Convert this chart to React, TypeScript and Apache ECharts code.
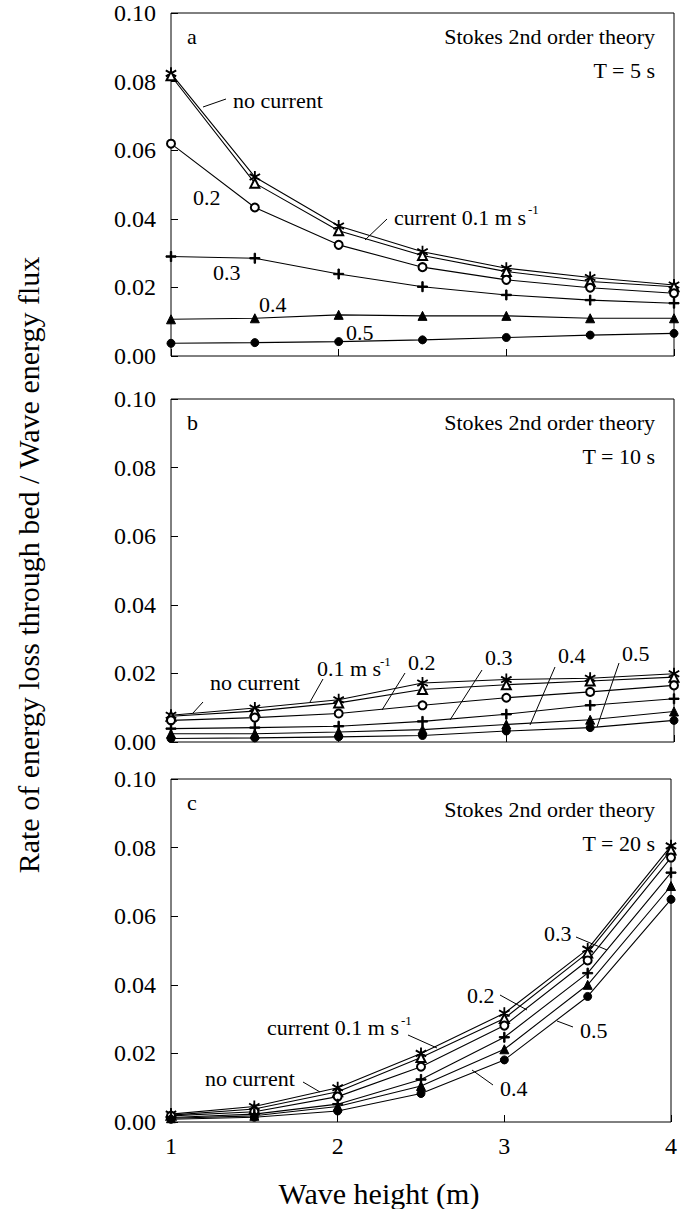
import React, { useEffect, useRef } from 'react';
import * as echarts from 'echarts';

// ---------- data ----------
const waveHeights = [1, 1.5, 2, 2.5, 3, 3.5, 4];
const xTickLabels = ['1', '2', '3', '4'];

// Panel a: T = 5 s
const aNoCurrent = [0.0824, 0.0522, 0.0379, 0.0304, 0.0256, 0.0229, 0.0207];
const aCur01 = [0.0817, 0.0504, 0.0365, 0.0293, 0.0246, 0.0217, 0.0202];
const aCur02 = [0.0619, 0.0433, 0.0324, 0.0259, 0.0222, 0.0199, 0.0183];
const aCur03 = [0.0290, 0.0285, 0.0239, 0.0202, 0.0178, 0.0163, 0.0154];
const aCur04 = [0.0107, 0.0110, 0.0120, 0.0117, 0.0117, 0.0110, 0.0110];
const aCur05 = [0.0037, 0.0039, 0.0042, 0.0047, 0.0054, 0.0061, 0.0066];

// Panel b: T = 10 s
const bNoCurrent = [0.0078, 0.0099, 0.0123, 0.0172, 0.0182, 0.0186, 0.0199];
const bCur01 = [0.0075, 0.0090, 0.0114, 0.0153, 0.0167, 0.0178, 0.0189];
const bCur02 = [0.0063, 0.0071, 0.0083, 0.0107, 0.0129, 0.0146, 0.0165];
const bCur03 = [0.0039, 0.0042, 0.0046, 0.0060, 0.0081, 0.0107, 0.0126];
const bCur04 = [0.0024, 0.0024, 0.0029, 0.0036, 0.0051, 0.0065, 0.0089];
const bCur05 = [0.0010, 0.0012, 0.0015, 0.0019, 0.0032, 0.0042, 0.0063];

// Panel c: T = 20 s
const cNoCurrent = [0.0023, 0.0045, 0.0100, 0.0200, 0.0317, 0.0504, 0.0805];
const cCur01 = [0.0020, 0.0038, 0.0088, 0.0188, 0.0302, 0.0493, 0.0793];
const cCur02 = [0.0018, 0.0030, 0.0074, 0.0161, 0.0281, 0.0471, 0.0771];
const cCur03 = [0.0013, 0.0023, 0.0052, 0.0124, 0.0247, 0.0434, 0.0727];
const cCur04 = [0.0011, 0.0018, 0.0045, 0.0105, 0.0212, 0.0400, 0.0688];
const cCur05 = [0.0008, 0.0014, 0.0032, 0.0083, 0.0181, 0.0366, 0.0649];

const panelLetters = ['a', 'b', 'c'];
const panelPeriods = ['T = 5 s', 'T = 10 s', 'T = 20 s'];
const theoryLabel = 'Stokes 2nd order theory';
const xTitle = 'Wave height (m)';
const yTitle = 'Rate of energy loss through bed / Wave energy flux';

// ---------- style ----------
const F = 'Liberation Serif';
const ASTERISK =
  'path://M-0.45,-6L0.45,-6L0.45,6L-0.45,6Z' +
  'M4.975,3.39L5.425,2.61L-4.975,-3.39L-5.425,-2.61Z' +
  'M5.425,-2.61L4.975,-3.39L-5.425,2.61L-4.975,3.39Z';
const PLUS = 'path://M-0.7,-5L0.7,-5L0.7,5L-0.7,5Z M-5,-0.7L5,-0.7L5,0.7L-5,0.7Z';

const markers = [
  { symbol: ASTERISK, size: [10, 11] },
  { symbol: 'emptyTriangle', size: 9 },
  { symbol: 'emptyCircle', size: 8 },
  { symbol: PLUS, size: 10 },
  { symbol: 'triangle', size: 9 },
  { symbol: 'circle', size: 8 },
];

const panels = [
  [aNoCurrent, aCur01, aCur02, aCur03, aCur04, aCur05],
  [bNoCurrent, bCur01, bCur02, bCur03, bCur04, bCur05],
  [cNoCurrent, cCur01, cCur02, cCur03, cCur04, cCur05],
];

const gridTops = [13, 399, 779];
const GRID_LEFT = 171;
const GRID_W = 503;
const GRID_H = 343;

function txt(x: number, y: number, text: string, size = 22, align = 'left', extra: any = {}) {
  return {
    type: 'text',
    x,
    y,
    ...extra,
    style: {
      text,
      fontFamily: F,
      fontSize: size,
      fill: '#000',
      align,
      verticalAlign: 'middle',
      textAlign: align,
      textVerticalAlign: 'middle',
    },
  };
}
function lead(x1: number, y1: number, x2: number, y2: number) {
  return {
    type: 'line',
    shape: { x1, y1, x2, y2 },
    style: { stroke: '#000', lineWidth: 1 },
  };
}

export default function App() {
  const ref = useRef<HTMLDivElement>(null);
  useEffect(() => {
    if (!ref.current) return;
    const chart = echarts.init(ref.current, undefined, { renderer: 'svg' });

    const grids = gridTops.map((top) => ({
      left: GRID_LEFT,
      top,
      width: GRID_W,
      height: GRID_H,
      show: true,
      borderColor: '#000',
      borderWidth: 1,
      backgroundColor: 'transparent',
    }));

    const xAxes = gridTops.map((_, i) => ({
      type: 'value',
      gridIndex: i,
      min: 1,
      max: 4,
      interval: 1,
      axisLine: { show: false },
      splitLine: { show: false },
      axisTick: { show: true, inside: true, length: 7, lineStyle: { color: '#000' } },
      axisLabel: {
        show: i === 2,
        fontFamily: F,
        fontSize: 24,
        color: '#000',
        margin: 12,
        formatter: (v: number) => xTickLabels[Math.round(v) - 1] ?? '',
      },
    }));

    const yAxes = gridTops.map((_, i) => ({
      type: 'value',
      gridIndex: i,
      min: 0,
      max: 0.1,
      interval: 0.02,
      axisLine: { show: false },
      splitLine: { show: false },
      axisTick: { show: true, inside: true, length: 7, lineStyle: { color: '#000' } },
      axisLabel: {
        fontFamily: F,
        fontSize: 24,
        color: '#000',
        margin: 15,
        formatter: (v: number) => v.toFixed(2),
      },
    }));

    const series: any[] = [];
    panels.forEach((panel, pi) => {
      panel.forEach((vals, si) => {
        series.push({
          type: 'line',
          xAxisIndex: pi,
          yAxisIndex: pi,
          data: waveHeights.map((x, k) => [x, vals[k]]),
          symbol: markers[si].symbol,
          symbolSize: markers[si].size,
          showSymbol: true,
          showAllSymbol: true,
          symbolKeepAspect: false,
          lineStyle: { color: '#000', width: 1.1 },
          itemStyle: { color: '#000', borderColor: '#000', borderWidth: 1 },
          emphasis: { disabled: true },
          silent: true,
        });
      });
    });

    const graphics: any[] = [];
    gridTops.forEach((top, i) => {
      graphics.push(txt(187, top + 23, panelLetters[i], 22, 'left'));
      graphics.push(txt(655, top + (i === 2 ? 30 : 23), theoryLabel, 22, 'right'));
      graphics.push(txt(655, top + (i === 2 ? 64 : 57), panelPeriods[i], 22, 'right'));
    });

    // panel a annotations
    graphics.push(txt(233, 100, 'no current'), lead(226, 99, 203, 107));
    graphics.push(txt(193, 197, '0.2'));
    graphics.push(txt(394, 217, 'current 0.1 m s'), txt(528, 209, '-1', 13), lead(387, 219, 365, 240));
    graphics.push(txt(213, 272, '0.3'));
    graphics.push(txt(259, 304, '0.4'));
    graphics.push(txt(346, 332, '0.5'));

    // panel b annotations
    graphics.push(txt(210, 682, 'no current'), lead(203, 702, 193, 713));
    graphics.push(txt(317, 668, '0.1 m s'), txt(380, 661, '-1', 13), lead(323, 679, 310, 702));
    graphics.push(txt(408, 662, '0.2'), lead(405, 673, 382, 710));
    graphics.push(txt(485, 657, '0.3'), lead(482, 670, 450, 720));
    graphics.push(txt(558, 655, '0.4'), lead(555, 667, 530, 725));
    graphics.push(txt(622, 653, '0.5'), lead(619, 663, 597, 727));

    // panel c annotations
    graphics.push(txt(544, 933, '0.3'), lead(576, 937, 607, 950));
    graphics.push(txt(467, 995, '0.2'), lead(500, 995, 527, 1010));
    graphics.push(txt(267, 1027, 'current 0.1 m s'), txt(401, 1020, '-1', 13), lead(408, 1035, 437, 1048));
    graphics.push(txt(205, 1078, 'no current'), lead(303, 1082, 320, 1092));
    graphics.push(txt(500, 1088, '0.4'), lead(493, 1085, 472, 1070));
    graphics.push(txt(580, 1030, '0.5'), lead(573, 1027, 557, 1021));

    // axis titles
    graphics.push(txt(379, 1193, xTitle, 30, 'center'));
    graphics.push(txt(28, 565, yTitle, 30, 'center', { rotation: Math.PI / 2 }));

    chart.setOption({
      animation: false,
      backgroundColor: '#fff',
      textStyle: { fontFamily: F },
      grid: grids,
      xAxis: xAxes,
      yAxis: yAxes,
      series,
      graphic: { elements: graphics },
    });

    return () => chart.dispose();
  }, []);

  return (
    <div
      ref={ref}
      style={{ position: 'absolute', left: 0, top: 0, width: 680, height: 1209, background: '#fff' }}
    />
  );
}
